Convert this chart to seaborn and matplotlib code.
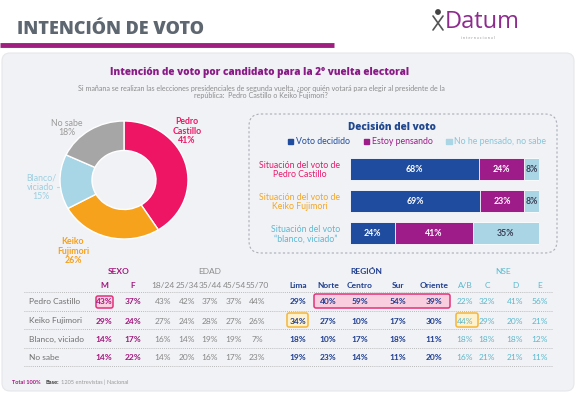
import numpy as np
import pandas as pd
import matplotlib.pyplot as plt
import seaborn as sns
from matplotlib.patches import FancyBboxPatch, Patch, Circle

sns.set_theme(style="white")
plt.rcParams['font.family'] = ['Lato', 'DejaVu Sans']

# Donut: intención de voto
pie_labels = ["Pedro\nCastillo\n41%", "Keiko\nFujimori\n26%", "Blanco/\nviciado\n15%", "No sabe\n18%"]
pie_values = [41, 26, 15, 18]
pie_colors = ["#EE1565", "#F7A21C", "#A8D6E6", "#A6A6A6"]

# Decisión del voto
decision_rows = ["Situación del voto de\nPedro Castillo",
                 "Situación del voto de\nKeiko Fujimori",
                 "Situación del voto\n\u201cblanco, viciado\u201d"]
decision_colors = ["#E8196B", "#F4A521", "#5DB8D2"]
voto_decidido = [68, 69, 24]
estoy_pensando = [24, 23, 41]
no_he_pensado = [8, 8, 35]

# Table
candidates = ["Pedro Castillo", "Keiko Fujimori", "Blanco, viciado", "No sabe"]
sexo_cols = ["M", "F"]
sexo = [[43, 37], [29, 24], [14, 17], [14, 22]]
edad_cols = ["18/24", "25/34", "35/44", "45/54", "55/70"]
edad = [[43, 42, 37, 37, 44], [27, 24, 28, 27, 26], [16, 14, 19, 19, 7], [14, 20, 16, 17, 23]]
region_cols = ["Lima", "Norte", "Centro", "Sur", "Oriente"]
region = [[29, 40, 59, 54, 39], [34, 27, 10, 17, 30], [18, 10, 17, 18, 11], [19, 23, 14, 11, 20]]
nse_cols = ["A/B", "C", "D", "E"]
nse = [[22, 32, 41, 56], [44, 29, 20, 21], [18, 18, 18, 12], [16, 21, 21, 11]]

NAVY = "#1F4C9E"
PURPLE = "#9E1C8A"
LIGHT = "#A9D5E4"
MAGENTA = "#A3187F"

fig = plt.figure(figsize=(5.8, 3.95), dpi=100)
fig.patch.set_facecolor("white")

bg = fig.add_axes([0, 0, 1, 1])
bg.set_xlim(0, 580)
bg.set_ylim(395, 0)
bg.axis("off")

# header
bg.text(17, 30, "INTENCIÓN DE VOTO", fontsize=13, fontweight="heavy", color="#5E6670",
        va="center", ha="left", family=["Open Sans", "DejaVu Sans"])
bg.plot([0, 334], [45, 45], color="#9E1F80", lw=3.5, solid_capstyle="butt")
bg.text(445, 22, "Datum", fontsize=17, color="#8E2C8E", va="center", ha="left",
        family=["Open Sans", "DejaVu Sans"])
bg.text(478, 38, "i n t e r n a c i o n a l", fontsize=2.8, color="#9A9A9A", va="center", ha="center")
bg.add_patch(Circle((438, 12), 2.2, color="#444444"))
bg.plot([433, 443], [16, 30], color="#555555", lw=1.2)
bg.plot([443, 433], [16, 30], color="#555555", lw=1.2)

# panel
bg.add_patch(FancyBboxPatch((2, 53), 572, 338, boxstyle="round,pad=0,rounding_size=8",
                            facecolor="#F1F2F6", edgecolor="#E6E7EB", lw=0.8))

bg.text(260, 72, "Intención de voto por candidato para la 2° vuelta electoral", fontsize=7.2,
        fontweight="heavy", color="#8A1A86", ha="center", va="center", family=["Open Sans", "DejaVu Sans"])
bg.text(261, 92, "Si mañana se realizan las elecciones presidenciales de segunda vuelta, ¿por quién votará para elegir al presidente de la\n"
        "república:  Pedro Castillo o Keiko Fujimori?", fontsize=5.1, color="#8C8C8C",
        ha="center", va="center", linespacing=1.1)

# donut
ax_pie = fig.add_axes([(124 - 64) / 580, 1 - (180 + 59) / 395, 128 / 580, 118 / 395])
ax_pie.pie(pie_values, colors=pie_colors, startangle=90, counterclock=False,
           wedgeprops=dict(width=0.5, edgecolor="white", linewidth=1))
ax_pie.set_aspect("auto")
ax_pie.set_xlim(-1, 1)
ax_pie.set_ylim(-1, 1)
ax_pie.axis("off")

label_pos = [(187, 131), (73, 251), (41, 187), (67, 128)]
label_col = ["#EE1565", "#F5A01A", "#9CCFE0", "#9A9A9A"]
label_w = ["bold", "bold", "normal", "normal"]
for lab, (px, py), c, w in zip(pie_labels, label_pos, label_col, label_w):
    bg.text(px, py, lab, fontsize=6.3, color=c, fontweight=w, ha="center", va="center", linespacing=1.05)
bg.plot([57, 72], [187, 187], color="#B8D8E3", lw=0.8)

# dashed box
bg.add_patch(FancyBboxPatch((249, 114), 308, 139, boxstyle="round,pad=0,rounding_size=12",
                            facecolor="none", edgecolor="#A9ADB5", lw=0.8, linestyle=(0, (2, 2))))
bg.text(392, 128, "Decisión del voto", fontsize=7.2, fontweight="heavy", color="#21488F",
        ha="center", va="center", family=["Open Sans", "DejaVu Sans"])

# stacked bars (drawn back to front)
df = pd.DataFrame({"row": decision_rows, "decidido": voto_decidido,
                   "pensando": estoy_pensando, "nosabe": no_he_pensado})
df["c2"] = df["decidido"] + df["pensando"]
df["c3"] = df["c2"] + df["nosabe"]

ax_bar = fig.add_axes([350 / 580, 1 - 249 / 395, 189 / 580, 96 / 395])
ax_bar.patch.set_alpha(0)
sns.barplot(data=df, x="c3", y="row", color=LIGHT, orient="h", width=0.69, saturation=1, ax=ax_bar)
sns.barplot(data=df, x="c2", y="row", color=PURPLE, orient="h", width=0.69, saturation=1, ax=ax_bar)
sns.barplot(data=df, x="decidido", y="row", color=NAVY, orient="h", width=0.69, saturation=1, ax=ax_bar)
for p in ax_bar.patches:
    p.set_edgecolor("white")
    p.set_linewidth(0.6)
ax_bar.set_xlim(0, 100)
ax_bar.set_ylim(2.5, -0.5)
ax_bar.set_xlabel("")
ax_bar.set_ylabel("")
ax_bar.set_xticks([])
sns.despine(ax=ax_bar, left=True, bottom=True)
ax_bar.tick_params(axis="y", length=0, pad=7)
for lab, c in zip(ax_bar.get_yticklabels(), decision_colors):
    lab.set_color(c)
    lab.set_fontsize(6.3)
    lab.set_multialignment("center")
    lab.set_linespacing(1.05)

for i, r in df.iterrows():
    ax_bar.text(r["decidido"] / 2, i, f"{r['decidido']}%", color="white", fontsize=6.3,
                fontweight="bold", ha="center", va="center")
    ax_bar.text(r["decidido"] + r["pensando"] / 2, i, f"{r['pensando']}%", color="white",
                fontsize=6.3, fontweight="bold", ha="center", va="center")
    ax_bar.text(r["c2"] + r["nosabe"] / 2, i, f"{r['nosabe']}%", color="#3A3F55",
                fontsize=6.3, fontweight="bold", ha="center", va="center")

handles = [Patch(color=NAVY), Patch(color=PURPLE), Patch(color=LIGHT)]
fig.legend(handles, ["Voto decidido", "Estoy pensando", "No he pensado, no sabe"],
           labelcolor=[NAVY, PURPLE, "#86C6DA"], ncol=3, frameon=False, fontsize=6.3,
           handlelength=0.6, handleheight=0.6, handletextpad=0.3, columnspacing=1.6,
           loc="center", bbox_to_anchor=(417 / 580, 1 - 142 / 395))

# table
row_y = [302, 321, 339, 357]
line_y = [292, 311, 329, 348, 366]
head_y = 285
group_y = 272
sexo_x = [104, 133]
edad_x = [163, 187, 210, 234, 257]
region_x = [298, 328, 360, 398, 434]
nse_x = [465, 487, 515, 540]

for y in line_y:
    bg.plot([24, 552], [y, y], color="#A8A8A8", lw=0.6, linestyle=(0, (1, 1.5)))

# highlight boxes
bg.add_patch(FancyBboxPatch((96, 296), 17, 12, boxstyle="round,pad=0,rounding_size=2",
                            facecolor="#FBD0E1", edgecolor="#E2327A", lw=1.1))
bg.add_patch(FancyBboxPatch((314, 294), 136, 14, boxstyle="round,pad=0,rounding_size=2",
                            facecolor="#F9CFE0", edgecolor="#E2327A", lw=1.1))
bg.add_patch(FancyBboxPatch((287, 313), 21, 14, boxstyle="round,pad=0,rounding_size=2",
                            facecolor="#FFF1CC", edgecolor="#F4B73A", lw=1.1))
bg.add_patch(FancyBboxPatch((456, 313), 22, 14, boxstyle="round,pad=0,rounding_size=2",
                            facecolor="#FFF1CC", edgecolor="#F4B73A", lw=1.1))

fs = 6.0
bg.text(119, group_y, "SEXO", color=MAGENTA, fontsize=fs, fontweight="bold", ha="center", va="center")
bg.text(210, group_y, "EDAD", color="#8C8C8C", fontsize=fs, ha="center", va="center")
bg.text(366, group_y, "REGIÓN", color="#1F3E8E", fontsize=fs, fontweight="bold", ha="center", va="center")
bg.text(503, group_y, "NSE", color="#5BB8CC", fontsize=fs, ha="center", va="center")

groups = [
    (sexo_cols, sexo, sexo_x, MAGENTA, "bold"),
    (edad_cols, edad, edad_x, "#868686", "normal"),
    (region_cols, region, region_x, "#1F3E8E", "bold"),
    (nse_cols, nse, nse_x, "#5BB8CC", "normal"),
]
for cols, vals, xs, c, w in groups:
    for name, x in zip(cols, xs):
        bg.text(x, head_y, name, color=c, fontsize=fs, fontweight=w, ha="center", va="center")
    for r, y in enumerate(row_y):
        for v, x in zip(vals[r], xs):
            bg.text(x, y, f"{v}%", color=c, fontsize=fs, fontweight=w, ha="center", va="center")

for name, y in zip(candidates, row_y):
    bg.text(29, y, name, color="#707070", fontsize=fs, ha="left", va="center")

# footer
bg.text(12, 382, "Total 100%", color=MAGENTA, fontsize=4.1, fontweight="bold", ha="left", va="center")
bg.text(45, 382, "Base:", color="#333333", fontsize=4.1, fontweight="bold", ha="left", va="center")
bg.text(61, 382, "1205 entrevistas | Nacional", color="#999999", fontsize=4.1, ha="left", va="center")

fig.savefig("out.png", dpi=100)
